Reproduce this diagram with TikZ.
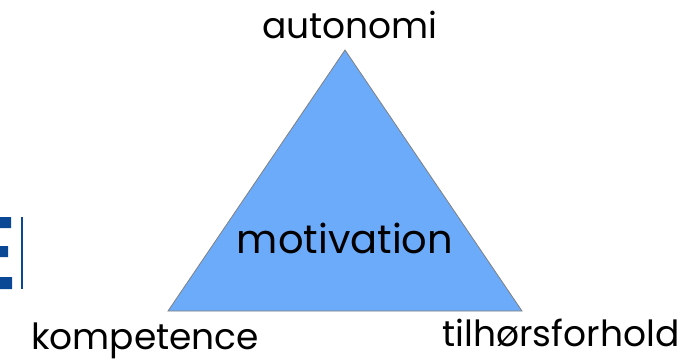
\documentclass[tikz,border=0pt]{standalone}
\usepackage{fontspec}
\setmainfont{Poppins}
\definecolor{triblue}{RGB}{108,170,250}
\definecolor{logoblue}{RGB}{10,72,150}
\tikzset{lbl/.style={anchor=base,inner sep=0pt,font=\fontsize{36}{40}\selectfont}}
\begin{document}
\begin{tikzpicture}[x=1pt,y=-1pt]
    \useasboundingbox(0,0) rectangle (697,362);
    \coordinate (top) at (345,50);
    \coordinate (left) at (168,311);
    \coordinate (right) at (522,311);
    \draw[color=gray,fill=triblue,line width=.8pt](top) -- (left) -- (right) -- cycle;
    \node[lbl](aut) at (350,38){autonomi};
    \node[lbl,font=\fontsize{40}{44}\selectfont](mot) at (345,253){motivation};
    \node[lbl](komp) at (145,349){kompetence};
    \node[lbl](tilh) at (561,346){tilhørsforhold};
    % piece of a logo at the left edge
    \fill[color=logoblue](0,217) rectangle (11,228) (0,246) rectangle (8,257)
                         (0,277) rectangle (12,289);
    \draw[color=logoblue,line width=1.5pt](22,217) -- (22,289);
  \end{tikzpicture}
\end{document}
